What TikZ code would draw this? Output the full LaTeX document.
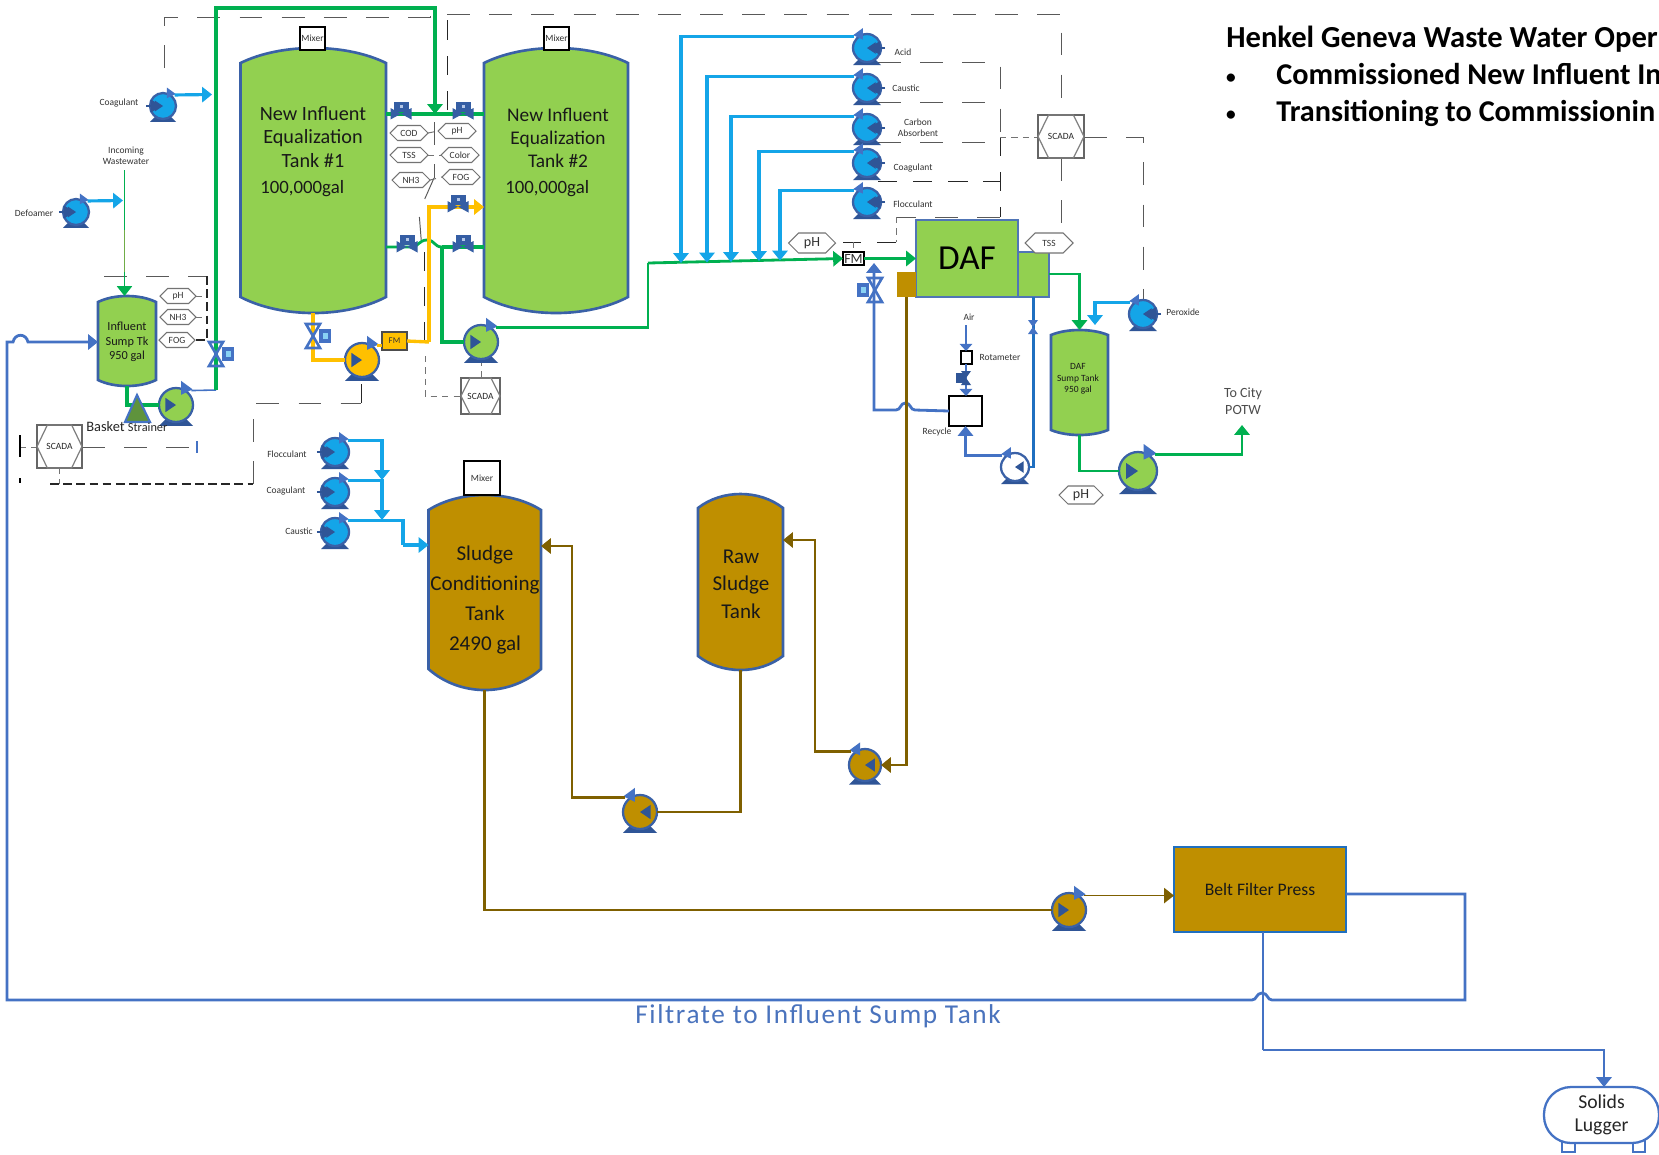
\documentclass[tikz,border=0pt]{standalone}
\usepackage{fontspec}
\setmainfont{Carlito}
\usetikzlibrary{arrows.meta,calc}
\definecolor{tgreen}{HTML}{92D050}
\definecolor{pgreen}{HTML}{00B050}
\definecolor{ogreen}{HTML}{70AD47}
\definecolor{tblue}{HTML}{4472C4}
\definecolor{dblue}{HTML}{2F5597}
\definecolor{lblue}{HTML}{14A5E8}
\definecolor{mblue}{HTML}{1F6FC0}
\definecolor{tbrown}{HTML}{BF8F00}
\definecolor{pbrown}{HTML}{7F6000}
\definecolor{torange}{HTML}{FFC000}
\newcommand{\fsz}[1]{\fontsize{#1pt}{\the\dimexpr#1pt*6/5\relax}\selectfont}
\tikzset{
  tip/.style={-{Triangle[length=5.6pt,width=8.6pt]}},
  smalltip/.style={-{Triangle[length=4pt,width=7pt]}},
  gthick/.style={draw=pgreen,line width=1.9pt,line join=miter},
  gpipe/.style={draw=pgreen,line width=1.6pt},
  gthin/.style={draw=pgreen,line width=0.9pt},
  bpipe/.style={draw=tblue,line width=1.6pt},
  bthin/.style={draw=tblue,line width=0.9pt},
  dbpipe/.style={draw=mblue,line width=1.6pt},
  lpipe/.style={draw=lblue,line width=1.8pt},
  opipe/.style={draw=torange,line width=1.9pt},
  brpipe/.style={draw=pbrown,line width=1.6pt},
  brthin/.style={draw=pbrown,line width=0.9pt},
  dashlong/.style={draw=black!65,line width=0.55pt,dash pattern=on 13pt off 11pt},
  dashblack/.style={draw=black!85,line width=0.55pt,dash pattern=on 11pt off 9pt},
  dashmid/.style={draw=black!85,line width=0.6pt,dash pattern=on 5pt off 2.5pt},
  dashshort/.style={draw=black!55,line width=0.55pt,dash pattern=on 3.5pt off 3pt},
  tanktext/.style={font=\fsz{11},text=black!90,align=center,inner sep=0pt},
  lbl/.style={font=\fsz{5.4},text=black!80,align=center,inner sep=0pt},
  hexline/.style={draw=black!55,line width=0.6pt},
}
% name, left, right, apex, top corner, bottom corner, bottom apex, fill
\newcommand{\tanksym}[8]{%
  \pgfmathsetmacro{\ctop}{#5-(#5-#4)*4/3}%
  \pgfmathsetmacro{\cbot}{#6+(#7-#6)*4/3}%
  \pgfmathsetmacro{\ctlx}{#2+0.28*(#3-#2)}%
  \pgfmathsetmacro{\ctrx}{#3-0.28*(#3-#2)}%
  \draw[draw=tblue!85!black,line width=1.5pt,fill=#8] (#2,#5) .. controls (\ctlx,\ctop) and (\ctrx,\ctop) .. (#3,#5) -- (#3,#6) .. controls (\ctrx,\cbot) and (\ctlx,\cbot) .. (#2,#6) -- cycle;
  \node[inner sep=0pt,outer sep=0pt,minimum width={(#3-#2)*0.02cm},minimum height={(#7-#4)*0.02cm}] (#1) at ({(#2+#3)/2},{(#4+#7)/2}) {};
}
% name, left, top, right, bottom, style, text
\newcommand{\boxsym}[7]{%
  \node[inner sep=0pt,outer sep=0pt,minimum width={(#4-#2)*0.02cm},minimum height={(#5-#3)*0.02cm},#6] (#1) at ({(#2+#4)/2},{(#3+#5)/2}) {#7};
}
% name, x, y, r, direction (1 right, -1 left), fill
\newcommand{\pumpsym}[6]{%
  \begin{scope}[shift={(#2,#3)},xscale=#5,scale=#4]
    \fill[dblue] (-0.62,0.85) -- (0.62,0.85) -- (1.0,1.22) -- (-1.0,1.22) -- cycle;
    \draw[draw=tblue!85!black,line width=1.3pt,fill=#6] (0,0) circle (1);
    \fill[dblue] (-0.62,-0.42) -- (0,0) -- (-0.62,0.42) -- cycle;
    \fill[tblue] (0.3,-1.42) -- (0.98,-0.92) -- (0.3,-0.6) -- cycle;
    \coordinate (#1-out) at (0.9,-0.85);
    \coordinate (#1-in) at (-1,0);
  \end{scope}
}
% chemical pump has an inlet tick
\newcommand{\chempump}[5]{%
  \pumpsym{#1}{#2}{#3}{#4}{#5}{lblue}
  \begin{scope}[shift={(#2,#3)},xscale=#5,scale=#4]
    \draw[dblue,line width=1pt] (-1.3,0) -- (-0.9,0);
    \fill[dblue] (-0.95,-0.5) -- (-0.05,0) -- (-0.95,0.5) -- cycle;
  \end{scope}
}
% valve on a horizontal pipe, actuator above
\newcommand{\valveh}[3]{%
  \begin{scope}[shift={(#2,#3)}]
    \fill[dblue!70!tblue] (-10.5,-6) -- (10.5,5.5) -- (10.5,-6) -- (-10.5,5.5) -- cycle;
    \fill[dblue!70!tblue] (-7.5,-12.5) rectangle (7.5,-2);
    \fill[tblue!40] (-1.5,-9) rectangle (1.5,-6.5);
    \coordinate (#1) at (0,0);
  \end{scope}
}
% valve on a vertical pipe, actuator at side #4 (1 right, -1 left), size #5
\newcommand{\valvev}[5]{%
  \begin{scope}[shift={(#2,#3)},xscale=#4,scale=#5]
    \draw[tblue,line width=1.5pt] (-7,-12) -- (7,12) -- (-7,12) -- (7,-12) -- cycle;
    \fill[tblue] (6,-7) rectangle (18,7);
    \fill[lblue!50] (9.5,-3) rectangle (14.5,3);
    \coordinate (#1) at (0,0);
  \end{scope}
}
% name, x, y, w, h, text, font size
\newcommand{\hexsym}[7]{%
  \draw[hexline,fill=white] ({#2-#4/2},#3) -- ({#2-#4/2+#5/2},{#3-#5/2}) -- ({#2+#4/2-#5/2},{#3-#5/2}) -- ({#2+#4/2},#3) -- ({#2+#4/2-#5/2},{#3+#5/2}) -- ({#2-#4/2+#5/2},{#3+#5/2}) -- cycle;
  \node[inner sep=0pt,font=\fsz{#7},text=black!80] (#1) at (#2,#3) {#6};
}
% name, left, top, right, bottom
\newcommand{\scadasym}[5]{%
  \pgfmathsetmacro{\insx}{0.23*(#4-#2)}%
  \pgfmathsetmacro{\midy}{(#3+#5)/2}%
  \pgfmathsetmacro{\midx}{(#2+#4)/2}%
  \draw[draw=black!60,line width=0.75pt,fill=white] (#2,#3) rectangle (#4,#5);
  \draw[draw=black!50,line width=0.7pt] (#2,\midy) -- ({#2+\insx},#3) -- ({#4-\insx},#3) -- (#4,\midy) -- ({#4-\insx},#5) -- ({#2+\insx},#5) -- cycle;
  \node[inner sep=0pt,font=\fsz{5.4},text=black!85] (#1) at (\midx,\midy) {SCADA};
}
\begin{document}
\begin{tikzpicture}[x=0.02cm,y=-0.02cm]
\useasboundingbox (0,0) rectangle (1659,1154);
\fill[white] (0,0) rectangle (1659,1154);

% ---------- control (dashed) lines
\coordinate (dA1) at (164,68); \coordinate (dA2) at (430,17);
\draw[dashlong] (dA1) -- (164,17) -- (dA2) -- (430,6);
\coordinate (dB1) at (447,110);
\draw[dashblack] (dB1) -- (447,14);
\draw[dashlong] (447,14) -- (1061,14) -- (1061,115);
\draw[dashlong] (1061,158) -- (1061,233);
\draw[dashlong] (434,122) -- (434,178);
\draw[dashlong] (434,178) -- (419,212) -- (422,250);
\draw[dashblack] (424,252) -- (424,340);
\draw[dashshort] (425,356) -- (425,396) -- (461,396);
\draw[dashshort] (481,360) -- (481,378);
\draw[dashshort] (428,133) -- (438,131);
\draw[dashshort] (428,155) -- (441,155);
\draw[dashshort] (430,180) -- (442,177);
% chemical pump control
\draw[dashlong] (878,62) -- (1000,62) -- (1000,137);
\draw[dashblack] (1000,137) -- (1000,217);
\draw[dashlong] (878,102) -- (1000,102);
\draw[dashlong] (878,142) -- (1000,142);
\draw[dashblack] (878,181) -- (1000,181);
\draw[dashlong] (1000,217) -- (896,217);
\draw[dashshort] (896,217) -- (896,242);
\draw[dashblack] (896,242) -- (843,242);
\draw[dashshort] (853,242) -- (853,252);
\draw[dashshort] (1000,137) -- (1038,137);
\draw[dashlong] (1084,137) -- (1143,137) -- (1143,300);
% sump analysers
\draw[dashlong] (104,276) -- (207,276);
\draw[dashmid] (207,276) -- (207,340) -- (195,340);
\draw[dashshort] (196,296) -- (207,296);
\draw[dashshort] (196,317) -- (207,317);
% left SCADA
\draw[dashshort] (20,447) -- (37,447);
\draw[dashlong] (82,447) -- (197,447);
\draw[draw=tblue,line width=1pt] (197,441) -- (197,453);
\draw[draw=black,line width=0.7pt] (20,435) -- (20,457);
\draw[draw=black,line width=0.7pt] (20,478) -- (20,483);
\draw[dashshort] (59,468) -- (59,484);
\draw[dashmid] (50,484) -- (253,484);
\draw[dashlong] (253,484) -- (253,403) -- (361,403);
\draw[dashblack] (361,403) -- (361,382);

% ---------- tanks
\tanksym{t1}{240.5}{386}{48}{63}{297}{313}{tgreen}
\tanksym{t2}{484}{628}{48}{63}{297}{313}{tgreen}
\tanksym{ts}{98}{156}{296}{302}{380}{386}{tgreen}
\tanksym{t3}{428.5}{541}{495}{510}{669}{690}{tbrown}
\tanksym{t4}{698}{783}{494}{508}{656}{670}{tbrown}
\tanksym{td}{1051}{1108}{330}{335}{430}{435}{tgreen}

\node[tanktext,font=\fsz{11.5}] (t1txt) at (313,137) {New Influent\\[-0.6pt]Equalization\\[-0.6pt]Tank \#1};
\node[tanktext,font=\fsz{10.7},anchor=west] (t1vol) at (260,189) {100,000gal};
\node[tanktext] (t2txt) at (558,138) {New Influent\\Equalization\\Tank \#2};
\node[tanktext,font=\fsz{10.7},anchor=west] (t2vol) at (505,189) {100,000gal};
\node[tanktext,font=\fsz{7}] (tstxt) at (127,342) {Influent\\Sump Tk\\950 gal};
\node[tanktext,font=\fsz{12}] (t3txt) at (485,600) {Sludge\\[2.6pt]Conditioning\\[2.6pt]Tank\\[2.6pt]2490 gal};
\node[tanktext,font=\fsz{12}] (t4txt) at (741,584) {Raw\\[1.2pt]Sludge\\[1.2pt]Tank};
\node[tanktext,font=\fsz{5.4}] (tdtxt) at (1078,379) {DAF\\Sump Tank\\950 gal};

% ---------- boxes
\boxsym{mx1}{300}{27}{325}{50}{draw=black,line width=0.7pt,fill=white,font=\fsz{5.4},text=black!80}{Mixer}
\boxsym{mx2}{544}{27}{569}{50}{draw=black,line width=0.7pt,fill=white,font=\fsz{5.4},text=black!80}{Mixer}
\boxsym{mx3}{464}{461}{500}{495}{draw=black,line width=0.7pt,fill=white,font=\fsz{5.4},text=black!80}{Mixer}
\boxsym{fmo}{382}{332}{407}{350}{draw=black!70,line width=0.7pt,fill=torange,font=\fsz{5},text=black!80}{FM}
\boxsym{daf1}{916}{220}{1018}{297}{draw=tblue!80!gray,line width=0.7pt,fill=tgreen,font=\fsz{20},text=black}{DAF}
\boxsym{daf2}{1018}{252}{1049}{297}{draw=tblue!80!gray,line width=0.7pt,fill=tgreen}{}
\boxsym{dafb}{897}{272}{916}{297}{fill=tbrown}{}
\boxsym{fmg}{843}{252}{864}{265}{draw=black,line width=0.8pt,fill=white,font=\fsz{8},text=black!80}{FM}
\boxsym{rec}{949}{396}{982}{426}{draw=black,line width=0.8pt,fill=white}{}
\boxsym{rota}{961}{351}{972}{364}{draw=black,line width=0.8pt,fill=white}{}
\boxsym{belt}{1174}{847}{1346}{932}{draw=mblue,line width=1.1pt,fill=tbrown,font=\fsz{10},text=black!90}{Belt Filter Press}
\draw[draw=tblue,line width=1.2pt,fill=white] (1562,1140) rectangle (1575,1152);
\draw[draw=tblue,line width=1.2pt,fill=white] (1633,1140) rectangle (1645,1152);
\boxsym{lug}{1544}{1087}{1659}{1143}{draw=tblue,line width=1.3pt,fill=white,rounded corners=0.54cm,align=center,font=\fsz{11.2},text=black!85}{Solids\\Lugger}

% ---------- pumps
\chempump{pcoag}{163}{106}{13}{1}
\chempump{pdef}{76}{212}{13}{1}
\pumpsym{psump}{176}{405}{17}{1}{tgreen}
\pumpsym{pora}{362}{360}{17}{1}{torange}
\pumpsym{pgr}{481}{342}{17}{1}{tgreen}
\chempump{pacid}{867}{48}{14}{-1}
\chempump{pcau}{867}{88}{14}{-1}
\chempump{pcarb}{867}{128}{14}{-1}
\chempump{pcoa2}{867}{163}{14}{-1}
\chempump{pflo}{867}{202}{14}{-1}
\chempump{pper}{1143}{314}{14}{-1}
\pumpsym{precy}{1015}{467}{14}{-1}{white}
\pumpsym{pout}{1138}{471}{19}{1}{tgreen}
\chempump{pf3}{335}{452}{14}{1}
\chempump{pc3}{335}{492}{14}{1}
\chempump{pk3}{335}{532}{14}{1}
\pumpsym{pb1}{865}{765}{16}{-1}{tbrown}
\pumpsym{pb2}{640}{812}{17}{-1}{tbrown}
\pumpsym{pb3}{1069}{910}{17}{1}{tbrown}

% ---------- green process pipes
\coordinate (jA) at (216,390);
\coordinate (hdr) at (435,114);
\draw[bthin] (psump-out) -- (jA);
\draw[gthick,tip] (jA) -- (216,8) -- (435,8) -- (hdr);
\draw[gthick] (t1.east |- hdr) -- (t2.west |- hdr);
\coordinate (jL) at (442,247);
\draw[gpipe] (t1.east |- jL) -- (412,247) .. controls (418,247) and (419,240) .. (427,240) .. controls (435,240) and (434,247) .. (jL);
\draw[gthick] (jL) -- (t2.west |- jL);
\draw[gthick] (jL) |- (pgr-in);
\coordinate (jB) at (648,263);
\draw[gpipe] (pgr-out) -| (jB);
\draw[gpipe,tip] (jB) -- (fmg.west);
\draw[gpipe,tip] (fmg.east) -- (daf1.west |- fmg.east);
\coordinate (inw) at (124.5,170);
\draw[gthin,tip] (inw) -- (ts.north -| inw);
\coordinate (inwa) at (124.5,230); \coordinate (inwb) at (124.5,272);
\draw[draw=ogreen,line width=0.9pt] (inwa) -- (inwb);
\draw[gthick] (ts.south) |- (psump-in);
\coordinate (dafo) at (1049,274);
\draw[gpipe,tip] (dafo) -| (td.north);
\draw[gpipe] (td.south) |- (pout-in);
\coordinate (potw) at (1242,425);
\draw[gpipe,tip] (pout-out) -| (potw);

% ---------- orange
\draw[opipe] (t1.south -| 313,0) |- (pora-in);
\draw[opipe] (pora-out) -- (fmo.west |- pora-out);
\coordinate (jO) at (429,342);
\draw[opipe] (fmo.east) -- (jO);
\draw[opipe,tip] (jO) |- (t2.west |- 0,207);

% ---------- chemical feeds
\coordinate (tA) at (681,263); \coordinate (tB) at (707,262.5);
\coordinate (tC) at (731,262); \coordinate (tD) at (759,261); \coordinate (tE) at (780,260.5);
\draw[lpipe,tip] (pacid-out) -| (tA);
\draw[lpipe,tip] (pcau-out) -| (tB);
\draw[lpipe,tip] (pcarb-out) -| (tC);
\draw[lpipe,tip] (pcoa2-out) -| (tD);
\draw[lpipe,tip] (pflo-out) -| (tE);
\coordinate (tCoag) at (212,94.5);
\draw[lpipe,tip] (pcoag-out) -- (tCoag);
\coordinate (tDef) at (123,200.5);
\draw[lpipe,tip] (pdef-out) -- (tDef);
\coordinate (tPer) at (1095,325);
\draw[lpipe,tip] (pper-out) -| (tPer);
\coordinate (tf3) at (382,480); \coordinate (tc3) at (382,520); \coordinate (jK) at (403,545);
\draw[lpipe,tip] (pf3-out) -| (tf3);
\draw[lpipe,tip] (pc3-out) -| (tc3);
\draw[lpipe] (pk3-out) -| (jK);
\draw[lpipe,tip] (jK) -- (t3.west |- jK);

% ---------- recycle and air
\draw[dbpipe] (daf2.south) |- (precy-in);
\draw[bpipe,tip] (precy-out) -| (rec.south);
\coordinate (tRe) at (874,263);
\draw[bpipe,tip] (rec.west) -- (915,410) .. controls (910,410) and (911,403) .. (905.5,403) .. controls (900,403) and (901,410) .. (896,410) -| (tRe);
\coordinate (air) at (966,325);
\draw[bpipe,smalltip] (air) -- (rota.north -| air);
\draw[bpipe,smalltip] (rota.south -| air) -- (rec.north -| air);

% ---------- sludge
\draw[brpipe,tip] (dafb.south) |- (pb1-in);
\draw[brpipe,tip] (pb1-out) -| (815,540) -- (t4.east |- 0,540);
\draw[brpipe] (t4.south) |- (pb2-in);
\draw[brpipe,tip] (pb2-out) -| (572,546) -- (t3.east |- 0,546);
\draw[brpipe] (t3.south) |- (pb3-in);
\draw[brthin,tip] (pb3-out) -- (belt.west |- pb3-out);

% ---------- filtrate and solids
\draw[bpipe,tip] (belt.east |- 0,894) -- (1465,894) -- (1465,1000) -- (1272,1000) .. controls (1267,1000) and (1268,993) .. (1262,993) .. controls (1256,993) and (1257,1000) .. (1252,1000) -- (7,1000) -- (7,342) -- (13,342) .. controls (15,333) and (26,333) .. (28,342) -- (ts.west |- 0,342);
\coordinate (jS) at (1263,1050);
\draw[bpipe] (belt.south -| jS) -- (jS);
\draw[bpipe,tip] (jS) -| (lug.north -| 1604,0);

% ---------- strainer
\draw[draw=tblue,line width=1.2pt,fill=ogreen!85!black] (137,395) -- (150,422) -- (125,422) -- cycle;

% ---------- valves
\valveh{v1}{401}{114}
\valveh{v2}{463}{114}
\valveh{v3}{407}{247}
\valveh{v4}{463}{247}
\valveh{v5}{458}{207}
\valvev{v6}{216}{354}{1}{1}
\valvev{v7}{313}{336}{1}{1}
\valvev{v8}{875}{290}{-1}{1}
\begin{scope}[shift={(1033,327)}]
  \fill[tblue] (-5,-7) -- (5,7) -- (-5,7) -- (5,-7) -- cycle;
\end{scope}
\begin{scope}[shift={(966,378)}]
  \fill[dblue] (-5,-7) -- (5,7) -- (-5,7) -- (5,-7) -- cycle;
  \fill[dblue] (-10,-5) rectangle (0,5);
\end{scope}

% ---------- analysers
\hexsym{hp}{178}{296}{36}{15}{pH}{5.4}
\hexsym{hn}{178}{317}{36}{15}{NH3}{5.4}
\hexsym{hf}{177}{340}{36}{15}{FOG}{5.4}
\hexsym{hcod}{409}{133}{38}{15}{COD}{5.4}
\hexsym{htss}{409}{155}{38}{15}{TSS}{5.4}
\hexsym{hnh}{411}{180}{38}{15}{NH3}{5.4}
\hexsym{hph2}{457}{131}{38}{15}{pH}{5.4}
\hexsym{hcol}{460}{155}{38}{15}{Color}{5.4}
\hexsym{hfog}{461}{177}{38}{15}{FOG}{5.4}
\hexsym{hph3}{812}{243}{47}{20}{pH}{8}
\hexsym{hts3}{1049}{243}{48}{20}{TSS}{5.4}
\hexsym{hph4}{1081}{495}{44}{18}{pH}{8}

% ---------- SCADA
\scadasym{sc1}{37}{425}{82}{468}
\scadasym{sc2}{461}{378}{500}{414}
\scadasym{sc3}{1038}{115}{1084}{158}

% ---------- labels
\node[lbl] (l1) at (119,103) {Coagulant};
\node[lbl] (l2) at (126,156) {Incoming\\Wastewater};
\node[lbl] (l3) at (34,213) {Defoamer};
\node[lbl] (l4) at (287,454) {Flocculant};
\node[lbl] (l5) at (286,491) {Coagulant};
\node[lbl] (l6) at (299,531) {Caustic};
\node[lbl] (l7) at (903,52) {Acid};
\node[lbl] (l8) at (906,88) {Caustic};
\node[lbl] (l9) at (918,128) {Carbon\\Absorbent};
\node[lbl] (l10) at (913,168) {Coagulant};
\node[lbl] (l11) at (913,204) {Flocculant};
\node[lbl] (l12) at (1183,312) {Peroxide};
\node[lbl] (l13) at (969,317) {Air};
\node[lbl] (l14) at (1000,357) {Rotameter};
\node[lbl] (l15) at (937,432) {Recycle};
\node[inner sep=0pt,anchor=west,text=black!85] (l16) at (86,427) {\fsz{8.2}Basket \fsz{7}Strainer};
\node[inner sep=0pt,align=center,font=\fsz{8},text=black!70] (l17) at (1243,401) {To City\\POTW};
\node[inner sep=0pt,anchor=west,text=tblue!90!gray] (l18) at (635,1016) {\addfontfeatures{LetterSpace=6}\fsz{15.5}Filtrate to Influent Sump Tank};

% ---------- heading
\node[inner sep=0pt,anchor=base west,font=\bfseries\fsz{17.4},text=black] (h1) at (1226,47) {Henkel Geneva Waste Water Oper};
\node[inner sep=0pt,anchor=base,font=\bfseries\fsz{11},text=black] (h2b) at (1231,83) {•};
\node[inner sep=0pt,anchor=base west,font=\bfseries\fsz{17.2},text=black] (h2) at (1276,84) {Commissioned New Influent In};
\node[inner sep=0pt,anchor=base,font=\bfseries\fsz{11},text=black] (h3b) at (1231,120) {•};
\node[inner sep=0pt,anchor=base west,font=\bfseries\fsz{17.2},text=black] (h3) at (1276,121) {Transitioning to Commissionin};
\end{tikzpicture}
\end{document}
